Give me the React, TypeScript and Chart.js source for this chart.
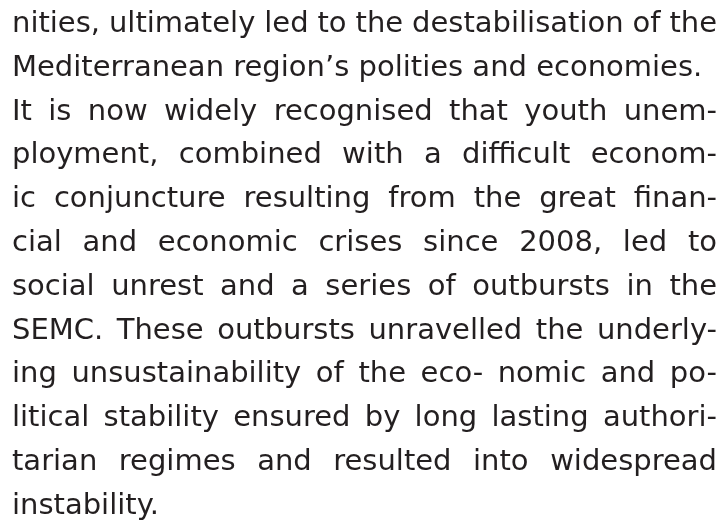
import React, { useEffect, useRef } from "react";
import { Chart, registerables } from "chart.js";

Chart.register(...registerables);

const textLines: string[] = [
  "nities, ultimately led to the destabilisation of the",
  "Mediterranean region\u2019s polities and economies.",
  "It is now widely recognised that youth unem-",
  "ployment, combined with a difficult econom-",
  "ic conjuncture resulting from the great finan-",
  "cial and economic crises since 2008, led to",
  "social unrest and a series of outbursts in the",
  "SEMC. These outbursts unravelled the underly-",
  "ing unsustainability of the eco- nomic and po-",
  "litical stability ensured by long lasting authori-",
  "tarian regimes and resulted into widespread",
  "instability.",
];

// true = last line of a paragraph (not justified)
const paragraphEnds: boolean[] = [
  false, true, false, false, false, false, false, false, false, false, false, true,
];

const textPlugin = {
  id: "paragraphText",
  afterDraw(chart: any) {
    const ctx: CanvasRenderingContext2D = chart.ctx;
    const left = 12;
    const right = 717;
    const firstBaseline = 32;
    const lineHeight = 43.8;
    ctx.save();
    ctx.font = "29px 'DejaVu Sans'";
    ctx.fillStyle = "#231f20";
    ctx.textBaseline = "alphabetic";
    ctx.textAlign = "left";
    textLines.forEach((line, i) => {
      const y = firstBaseline + i * lineHeight;
      const words = line.split(" ");
      if (paragraphEnds[i] || words.length < 2) {
        ctx.fillText(line, left, y);
        return;
      }
      const wordsWidth = words.reduce((s, w) => s + ctx.measureText(w).width, 0);
      const gap = (right - left - wordsWidth) / (words.length - 1);
      let x = left;
      words.forEach((w) => {
        ctx.fillText(w, x, y);
        x += ctx.measureText(w).width + gap;
      });
    });
    ctx.restore();
  },
};

export default function App() {
  const canvasRef = useRef<HTMLCanvasElement | null>(null);

  useEffect(() => {
    document.body.style.margin = "0";
    document.body.style.background = "#ffffff";
    const canvas = canvasRef.current;
    if (!canvas) return;
    const chart = new Chart(canvas, {
      type: "bar",
      data: { labels: [], datasets: [{ data: [] }] },
      options: {
        animation: false,
        responsive: true,
        maintainAspectRatio: false,
        events: [],
        plugins: {
          legend: { display: false },
          tooltip: { enabled: false },
          title: { display: false },
        },
        scales: {
          x: { display: false },
          y: { display: false },
        },
      },
      plugins: [textPlugin],
    });
    return () => chart.destroy();
  }, []);

  return (
    <div style={{ width: 728, height: 523, position: "relative", background: "#fff" }}>
      <canvas ref={canvasRef} />
    </div>
  );
}
